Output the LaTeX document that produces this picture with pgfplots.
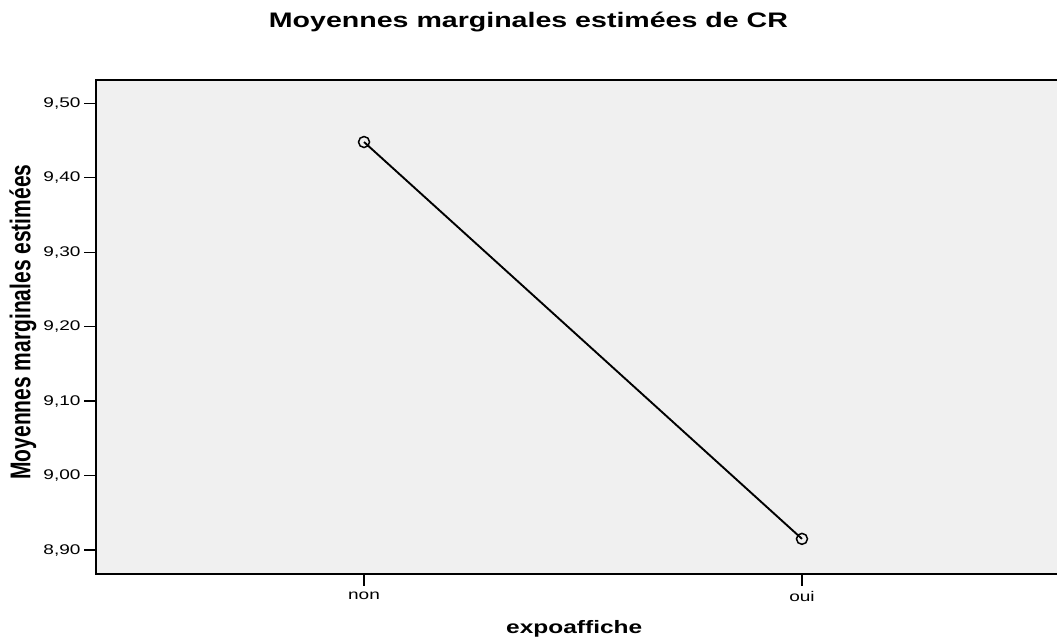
\documentclass[border=0pt]{standalone}
\usepackage{fontspec}
\setmainfont{Liberation Sans}
\usepackage{graphicx}
\usepackage{pgfplots}
\pgfplotsset{compat=1.18}
\definecolor{plotbg}{HTML}{F0F0F0}

\newcommand{\wide}[1]{\scalebox{1.36}[1]{#1}}

\begin{document}
\begin{tikzpicture}
\path[use as bounding box] (0,0) rectangle (1057bp,640bp);
\begin{axis}[
    at={(96bp,66bp)}, anchor=south west,
    scale only axis,
    width=974bp, height=494bp,
    xmin=-0.612, xmax=1.612,
    ymin=8.8678, ymax=9.5313,
    axis background/.style={fill=plotbg},
    axis line style={line width=1.4bp, black},
    tick align=outside,
    xtick pos=bottom, ytick pos=left,
    major tick length=12bp,
    tick style={line width=1.4bp, black},
    xtick={0,1}, xticklabels={\wide{non},\wide{oui}},
    ytick={8.9,9.0,9.1,9.2,9.3,9.4,9.5},
    yticklabels={\wide{8,90},\wide{9,00},\wide{9,10},\wide{9,20},\wide{9,30},\wide{9,40},\wide{9,50}},
    ticklabel style={font=\fontsize{14bp}{16bp}\selectfont},
    xticklabel style={yshift=-2bp},
    title={\wide{\bfseries Moyennes marginales estimées de CR}},
    title style={at={(rel axis cs:0.444,1)}, anchor=base, yshift=47bp,
                 font=\fontsize{21bp}{24bp}\selectfont},
    xlabel={\wide{\bfseries expoaffiche}},
    xlabel style={at={(rel axis cs:0.491,0)}, anchor=base, yshift=-59bp,
                  font=\fontsize{18bp}{20bp}\selectfont},
    ylabel={\scalebox{1}[1.36]{\bfseries Moyennes marginales estimées}},
    ylabel style={at={([xshift=-73bp]rel axis cs:0,0.51)}, anchor=center,
                  font=\fontsize{21bp}{24bp}\selectfont},
]
\addplot[black, line width=1.9bp, mark=o, mark size=5.5bp,
         mark options={line width=1.5bp}]
  coordinates {(0,9.448) (1,8.915)};
\end{axis}
\end{tikzpicture}
\end{document}
